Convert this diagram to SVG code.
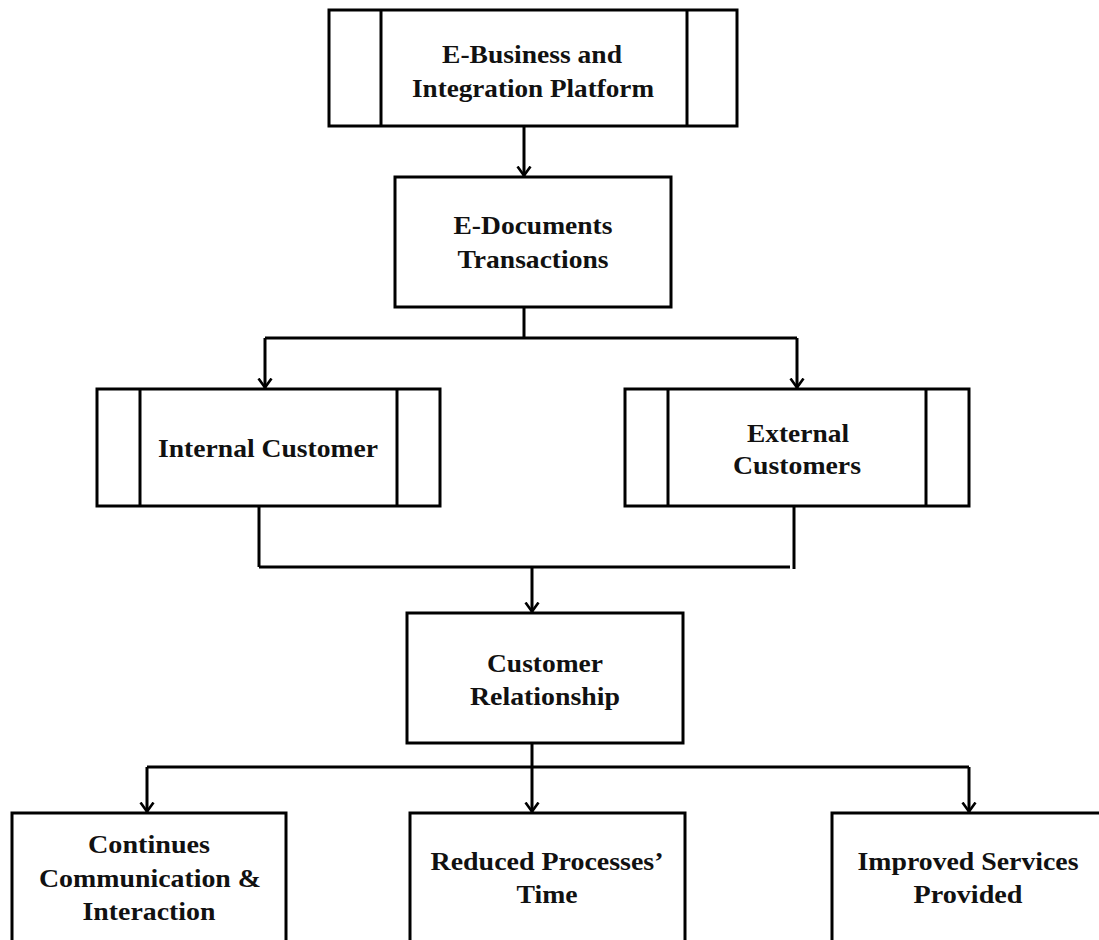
<svg xmlns="http://www.w3.org/2000/svg" width="1099" height="940" viewBox="0 0 1099 940">
<defs>
<style>
.box{fill:#fff;stroke:#000;stroke-width:3}
.bar{stroke:#000;stroke-width:3}
.t{font-family:"Liberation Serif","Times New Roman",serif;font-weight:bold;font-size:25px;fill:#111;text-anchor:middle}
.c{fill:none;stroke:#000;stroke-width:3}
</style>
<marker id="ah" markerUnits="userSpaceOnUse" viewBox="0 0 12 16" refX="10.5" refY="8" markerWidth="12" markerHeight="16" orient="auto">
<path d="M1,1.5 L10,8 L1,14.5" fill="none" stroke="#000" stroke-width="2.6"/>
</marker>
</defs>
<rect width="1099" height="940" fill="#fff"/>
<g id="connectors">
<path class="c" d="M524,126 V176" marker-end="url(#ah)"/>
<path class="c" d="M524,307 V338"/>
<path class="c" d="M265,338 H797"/>
<path class="c" d="M265,338 V388" marker-end="url(#ah)"/>
<path class="c" d="M797,338 V388" marker-end="url(#ah)"/>
<path class="c" d="M259,506 V567"/>
<path class="c" d="M794,506 V569"/>
<path class="c" d="M259,567 H790"/>
<path class="c" d="M532,567 V612" marker-end="url(#ah)"/>
<path class="c" d="M532,743 V767"/>
<path class="c" d="M147,767 H969"/>
<path class="c" d="M147,767 V812" marker-end="url(#ah)"/>
<path class="c" d="M532,767 V812" marker-end="url(#ah)"/>
<path class="c" d="M969,767 V812" marker-end="url(#ah)"/>
</g>
<g id="n-platform">
<rect class="box" x="329" y="10" width="408" height="116"/>
<line class="bar" x1="381" y1="10" x2="381" y2="126"/>
<line class="bar" x1="687" y1="10" x2="687" y2="126"/>
<text class="t" x="532" y="63" textLength="180" lengthAdjust="spacingAndGlyphs">E-Business and</text>
<text class="t" x="533" y="97" textLength="242" lengthAdjust="spacingAndGlyphs">Integration Platform</text>
</g>
<g id="n-edocs">
<rect class="box" x="395" y="177" width="276" height="130"/>
<text class="t" x="533" y="234" textLength="159" lengthAdjust="spacingAndGlyphs">E-Documents</text>
<text class="t" x="533" y="268" textLength="151" lengthAdjust="spacingAndGlyphs">Transactions</text>
</g>
<g id="n-internal">
<rect class="box" x="97" y="389" width="343" height="117"/>
<line class="bar" x1="140" y1="389" x2="140" y2="506"/>
<line class="bar" x1="397" y1="389" x2="397" y2="506"/>
<text class="t" x="268" y="457" textLength="220" lengthAdjust="spacingAndGlyphs">Internal Customer</text>
</g>
<g id="n-external">
<rect class="box" x="625" y="389" width="344" height="117"/>
<line class="bar" x1="668" y1="389" x2="668" y2="506"/>
<line class="bar" x1="926" y1="389" x2="926" y2="506"/>
<text class="t" x="798" y="442" textLength="102" lengthAdjust="spacingAndGlyphs">External</text>
<text class="t" x="797" y="474" textLength="128" lengthAdjust="spacingAndGlyphs">Customers</text>
</g>
<g id="n-relationship">
<rect class="box" x="407" y="613" width="276" height="130"/>
<text class="t" x="545" y="672" textLength="116" lengthAdjust="spacingAndGlyphs">Customer</text>
<text class="t" x="545" y="705" textLength="150" lengthAdjust="spacingAndGlyphs">Relationship</text>
</g>
<g id="n-communication">
<rect class="box" x="12" y="813" width="274" height="200"/>
<text class="t" x="149" y="853" textLength="122" lengthAdjust="spacingAndGlyphs">Continues</text>
<text class="t" x="150" y="887" textLength="222" lengthAdjust="spacingAndGlyphs">Communication &amp;</text>
<text class="t" x="149" y="920" textLength="133" lengthAdjust="spacingAndGlyphs">Interaction</text>
</g>
<g id="n-time">
<rect class="box" x="410" y="813" width="275" height="200"/>
<text class="t" x="547" y="870" textLength="233" lengthAdjust="spacingAndGlyphs">Reduced Processes’</text>
<text class="t" x="547" y="903" textLength="61" lengthAdjust="spacingAndGlyphs">Time</text>
</g>
<g id="n-services">
<rect class="box" x="832" y="813" width="300" height="200"/>
<text class="t" x="968" y="870" textLength="221" lengthAdjust="spacingAndGlyphs">Improved Services</text>
<text class="t" x="968" y="903" textLength="109" lengthAdjust="spacingAndGlyphs">Provided</text>
</g>
</svg>
